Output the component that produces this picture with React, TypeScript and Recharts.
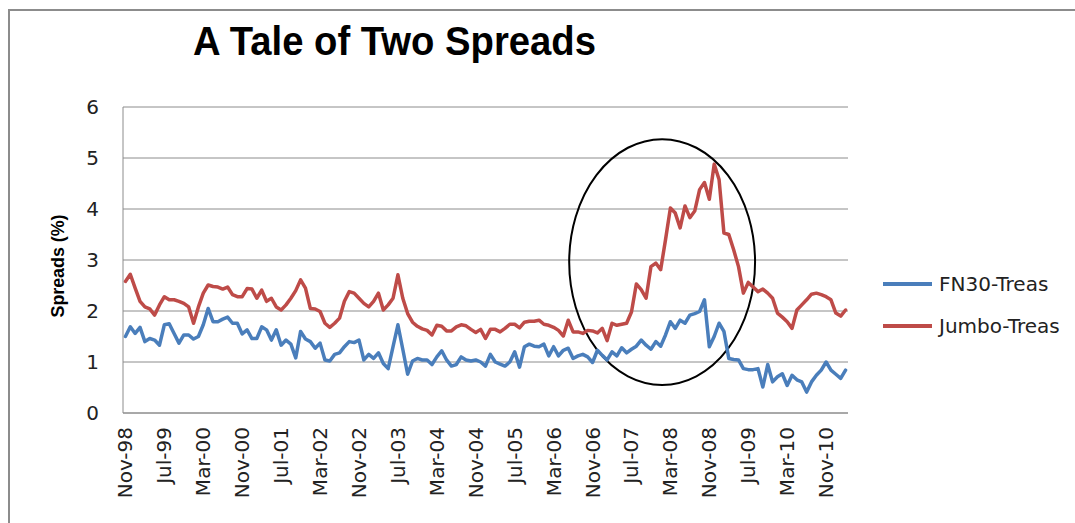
import { LineChart, Line, XAxis, YAxis, CartesianGrid, ReferenceArea, Legend } from "recharts";

// monthly spreads, Nov-98 .. Mar-11 (%)
const fn30 = [
  1.50, 1.69, 1.56, 1.68, 1.40, 1.46, 1.43, 1.33, 1.73, 1.75,
  1.56, 1.37, 1.53, 1.53, 1.45, 1.50, 1.73, 2.05, 1.79, 1.79,
  1.84, 1.88, 1.76, 1.76, 1.55, 1.63, 1.46, 1.46, 1.69, 1.63,
  1.43, 1.63, 1.33, 1.43, 1.35, 1.08, 1.60, 1.45, 1.40, 1.27,
  1.37, 1.04, 1.02, 1.15, 1.18, 1.30, 1.40, 1.38, 1.43, 1.04,
  1.15, 1.07, 1.18, 0.97, 0.87, 1.30, 1.73, 1.25, 0.76, 1.02,
  1.07, 1.04, 1.04, 0.95, 1.10, 1.22, 1.04, 0.92, 0.95, 1.10,
  1.04, 1.02, 1.04, 1.00, 0.92, 1.15, 1.00, 0.96, 0.92, 1.00,
  1.20, 0.90, 1.30, 1.35, 1.31, 1.30, 1.35, 1.12, 1.30, 1.12,
  1.23, 1.27, 1.07, 1.12, 1.15, 1.10, 0.99, 1.23, 1.13, 1.04,
  1.20, 1.12, 1.28, 1.18, 1.25, 1.31, 1.43, 1.33, 1.25, 1.40,
  1.31, 1.53, 1.79, 1.66, 1.82, 1.76, 1.92, 1.95, 1.99, 2.22,
  1.30, 1.50, 1.76, 1.60, 1.07, 1.05, 1.04, 0.87, 0.85, 0.85,
  0.87, 0.51, 0.95, 0.61, 0.71, 0.77, 0.54, 0.74, 0.65, 0.61,
  0.41, 0.61, 0.74, 0.84, 1.00, 0.84, 0.76, 0.68, 0.84,
];

const jumbo = [
  2.58, 2.72, 2.45, 2.19, 2.08, 2.04, 1.92, 2.12, 2.28, 2.22,
  2.22, 2.19, 2.15, 2.08, 1.76, 2.08, 2.35, 2.51, 2.48, 2.47,
  2.43, 2.47, 2.32, 2.28, 2.28, 2.44, 2.43, 2.25, 2.41, 2.19,
  2.25, 2.08, 2.02, 2.12, 2.25, 2.40, 2.61, 2.45, 2.05, 2.04,
  1.99, 1.76, 1.68, 1.76, 1.86, 2.19, 2.38, 2.35, 2.25, 2.15,
  2.08, 2.19, 2.35, 2.02, 2.12, 2.25, 2.71, 2.25, 1.95, 1.78,
  1.70, 1.65, 1.62, 1.53, 1.72, 1.70, 1.61, 1.61, 1.69, 1.73,
  1.71, 1.64, 1.58, 1.64, 1.46, 1.64, 1.64, 1.59, 1.66, 1.74,
  1.74, 1.67, 1.78, 1.80, 1.80, 1.82, 1.74, 1.72, 1.68, 1.62,
  1.51, 1.82, 1.59, 1.59, 1.56, 1.62, 1.61, 1.57, 1.66, 1.42,
  1.76, 1.72, 1.74, 1.76, 1.98, 2.53, 2.42, 2.25, 2.87, 2.94,
  2.81, 3.40, 4.02, 3.92, 3.63, 4.06, 3.83, 3.96, 4.38, 4.52,
  4.19, 4.88, 4.58, 3.53, 3.50, 3.20, 2.87, 2.35, 2.56, 2.47,
  2.38, 2.43, 2.35, 2.25, 1.96, 1.88, 1.79, 1.66, 2.02, 2.12,
  2.22, 2.33, 2.35, 2.32, 2.28, 2.22, 1.96, 1.90, 2.02,
];

const tickLabels = [
  "Nov-98", "Jul-99", "Mar-00", "Nov-00", "Jul-01", "Mar-02", "Nov-02", "Jul-03", "Mar-04", "Nov-04",
  "Jul-05", "Mar-06", "Nov-06", "Jul-07", "Mar-08", "Nov-08", "Jul-09", "Mar-10", "Nov-10",
];
const tickIndex = [0, 8, 16, 24, 32, 40, 48, 56, 64, 72, 80, 88, 96, 104, 112, 120, 128, 136, 144];
const yTicks = [0, 1, 2, 3, 4, 5, 6];

// the hand-drawn circle around the 2007-09 spike (month index / %)
const circleBox = { x1: 91.2, x2: 129.4, y1: 0.55, y2: 5.37 };

const series = [
  { key: "fn30", name: "FN30-Treas", color: "#4A7EBB" },
  { key: "jumbo", name: "Jumbo-Treas", color: "#BE4B48" },
];

const data = fn30.map((v, i) => ({ idx: i, fn30: v, jumbo: jumbo[i] }));

const FONT = "'DejaVu Sans', Verdana, sans-serif";
const AXIS = "#8c8c8c";

function XTick({ x, y, payload }: any) {
  const label = tickLabels[tickIndex.indexOf(payload.value)];
  return (
    <g transform={`translate(${x},${y})`}>
      <text transform="rotate(-90)" x={-14} dy="0.35em" textAnchor="end" fontSize={20} fill="#222" fontFamily={FONT}>
        {label}
      </text>
    </g>
  );
}

function Circle({ x, y, width, height }: any) {
  return (
    <ellipse cx={x + width / 2} cy={y + height / 2} rx={width / 2} ry={height / 2} fill="none" stroke="#000" strokeWidth={2} />
  );
}

function LegendBox() {
  return (
    <div style={{ fontFamily: FONT, fontSize: 20, color: "#222" }}>
      {series.map((s) => (
        <div key={s.key} style={{ display: "flex", alignItems: "center", height: 42 }}>
          <div style={{ width: 49, height: 4, background: s.color, marginRight: 7 }} />
          <span>{s.name}</span>
        </div>
      ))}
    </div>
  );
}

export default function App() {
  return (
    <div style={{ position: "absolute", left: 0, top: 0, width: 1075, height: 523, overflow: "hidden", background: "#fff" }}>
      <div style={{ position: "absolute", left: 8, top: 9, width: 1100, height: 600, borderTop: `2px solid ${AXIS}`, borderLeft: `2px solid ${AXIS}` }} />
      <LineChart width={1075} height={523} data={data} margin={{ top: 107, right: 227, bottom: 0, left: 0 }}>
        <CartesianGrid vertical={false} stroke={AXIS} />
        <XAxis
          dataKey="idx"
          type="number"
          domain={[-0.5, 148.5]}
          ticks={tickIndex}
          interval={0}
          tick={<XTick />}
          tickLine={false}
          tickSize={0}
          tickMargin={0}
          axisLine={{ stroke: AXIS }}
          height={110}
        />
        <YAxis
          domain={[0, 6]}
          ticks={yTicks}
          interval={0}
          tickLine={false}
          tickSize={0}
          tickMargin={24}
          axisLine={{ stroke: AXIS }}
          width={123}
          tick={{ fontSize: 20, fill: "#222", fontFamily: FONT }}
        />
        <Legend
          layout="vertical"
          align="center"
          verticalAlign="middle"
          content={<LegendBox />}
          wrapperStyle={{ left: 883, top: 263, width: 190 }}
        />
        {series.map((s) => (
          <Line
            key={s.key}
            type="linear"
            dataKey={s.key}
            name={s.name}
            stroke={s.color}
            strokeWidth={3.5}
            strokeLinejoin="round"
            strokeLinecap="round"
            dot={false}
            isAnimationActive={false}
          />
        ))}
        <ReferenceArea {...circleBox} shape={<Circle />} ifOverflow="visible" />
      </LineChart>
      <svg width={1075} height={523} style={{ position: "absolute", left: 0, top: 0, pointerEvents: "none" }}>
        <text x={193} y={55} fontSize={40} fontWeight="bold" fontFamily="'Liberation Sans Narrow', 'Liberation Sans', Arial, sans-serif" textLength={403} lengthAdjust="spacingAndGlyphs" fill="#000">
          A Tale of Two Spreads
        </text>
        <text transform="translate(64,266) rotate(-90)" textAnchor="middle" fontSize={18} fontWeight="bold" fontFamily="'Liberation Sans', Arial, sans-serif" textLength={103} lengthAdjust="spacingAndGlyphs" fill="#000">
          Spreads (%)
        </text>
      </svg>
    </div>
  );
}
